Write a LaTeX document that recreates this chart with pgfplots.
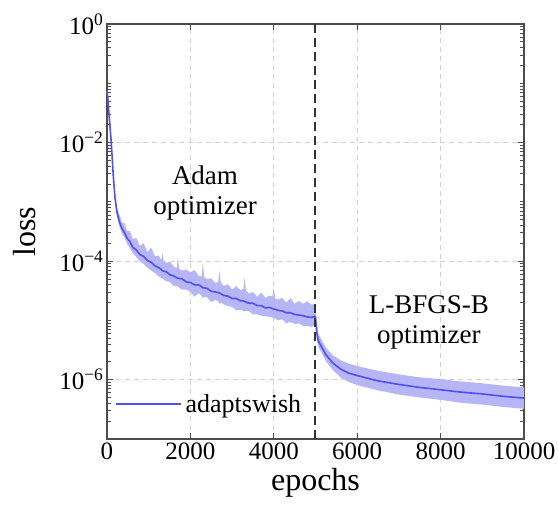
\documentclass[border=0pt]{standalone}
\usepackage{fontspec}
\setmainfont{Liberation Serif}
\usepackage{pgfplots}
\usepackage{pgfplotstable}
\pgfplotsset{compat=1.18}
\usepgfplotslibrary{fillbetween}
\definecolor{lineblue}{RGB}{80,80,240}
\definecolor{bandblue}{RGB}{182,182,246}

\pgfplotstableread{
x m lo hi
0 7.079e-2 6.607e-2 7.586e-2
20 5.623e-2 5.248e-2 6.026e-2
40 3.548e-2 3.236e-2 3.890e-2
60 2.399e-2 2.188e-2 2.630e-2
80 1.585e-2 1.413e-2 1.778e-2
100 1.047e-2 9.333e-3 1.175e-2
120 6.310e-3 5.623e-3 7.244e-3
150 2.818e-3 2.455e-3 3.236e-3
190 1.202e-3 1.047e-3 1.413e-3
240 6.607e-4 5.623e-4 7.943e-4
300 4.571e-4 3.802e-4 6.026e-4
360 3.548e-4 2.884e-4 4.467e-4
420 3.020e-4 2.512e-4 4.365e-4
480 2.455e-4 1.950e-4 3.236e-4
550 2.138e-4 1.660e-4 3.236e-4
620 1.698e-4 1.349e-4 2.344e-4
700 1.549e-4 1.175e-4 2.455e-4
790 1.288e-4 1.000e-4 1.820e-4
880 1.202e-4 8.913e-5 1.995e-4
970 1.023e-4 7.762e-5 1.413e-4
1060 9.550e-5 6.918e-5 1.698e-4
1150 8.318e-5 6.310e-5 1.202e-4
1240 7.762e-5 5.495e-5 1.230e-4
1300 7.244e-5 5.248e-5 1.047e-4
1330 6.918e-5 5.129e-5 1.380e-4
1360 6.761e-5 4.898e-5 1.000e-4
1420 6.607e-5 4.571e-5 9.333e-5
1510 5.888e-5 4.467e-5 9.772e-5
1600 5.623e-5 3.802e-5 8.128e-5
1670 5.248e-5 3.890e-5 7.586e-5
1700 5.129e-5 3.715e-5 1.175e-4
1730 5.129e-5 3.548e-5 7.413e-5
1800 5.012e-5 3.311e-5 6.918e-5
1900 4.467e-5 3.311e-5 7.244e-5
2000 4.365e-5 3.020e-5 6.457e-5
2100 3.981e-5 2.512e-5 7.079e-5
2200 3.981e-5 2.884e-5 5.623e-5
2270 3.715e-5 2.630e-5 5.495e-5
2300 3.548e-5 2.399e-5 9.333e-5
2330 3.548e-5 2.512e-5 5.370e-5
2400 3.467e-5 2.455e-5 5.012e-5
2500 3.090e-5 2.042e-5 5.129e-5
2600 3.020e-5 2.239e-5 4.266e-5
2670 2.951e-5 2.089e-5 4.467e-5
2700 2.884e-5 1.905e-5 6.918e-5
2730 2.818e-5 1.995e-5 4.365e-5
2800 2.630e-5 1.862e-5 3.802e-5
2900 2.570e-5 1.738e-5 4.074e-5
3000 2.344e-5 1.698e-5 3.311e-5
3100 2.344e-5 1.479e-5 3.802e-5
3200 2.138e-5 1.514e-5 3.236e-5
3270 2.138e-5 1.445e-5 3.388e-5
3300 2.089e-5 1.413e-5 5.248e-5
3330 2.042e-5 1.445e-5 3.236e-5
3400 1.950e-5 1.445e-5 2.818e-5
3500 1.950e-5 1.259e-5 3.020e-5
3600 1.778e-5 1.259e-5 2.512e-5
3700 1.778e-5 1.202e-5 2.951e-5
3800 1.622e-5 1.175e-5 2.399e-5
3900 1.660e-5 1.148e-5 2.630e-5
3970 1.585e-5 1.122e-5 2.512e-5
4000 1.549e-5 1.096e-5 3.715e-5
4030 1.549e-5 1.072e-5 2.344e-5
4100 1.479e-5 1.000e-5 2.239e-5
4200 1.445e-5 1.047e-5 2.399e-5
4300 1.349e-5 8.913e-6 1.995e-5
4400 1.349e-5 9.550e-6 2.399e-5
4500 1.259e-5 8.710e-6 1.905e-5
4600 1.230e-5 8.913e-6 2.138e-5
4700 1.202e-5 8.128e-6 1.905e-5
4800 1.148e-5 8.128e-6 2.089e-5
4900 1.122e-5 7.762e-6 1.862e-5
4980 1.175e-5 8.318e-6 1.862e-5
5000 1.122e-5 7.943e-6 1.585e-5
5030 6.310e-6 4.786e-6 8.913e-6
5070 4.467e-6 3.548e-6 5.888e-6
5150 3.548e-6 2.818e-6 4.677e-6
5250 2.630e-6 2.042e-6 3.467e-6
5420 1.905e-6 1.445e-6 2.570e-6
5600 1.514e-6 1.096e-6 2.138e-6
5800 1.288e-6 9.120e-7 1.862e-6
6000 1.175e-6 8.128e-7 1.698e-6
6500 9.550e-7 6.607e-7 1.413e-6
7000 8.318e-7 5.623e-7 1.230e-6
7500 7.413e-7 5.012e-7 1.096e-6
8000 6.761e-7 4.571e-7 1.023e-6
8500 6.166e-7 4.074e-7 9.333e-7
9000 5.754e-7 3.802e-7 8.710e-7
9500 5.248e-7 3.467e-7 7.943e-7
10000 4.898e-7 3.236e-7 7.413e-7
}\lossdata

\begin{document}
\begin{tikzpicture}
\begin{axis}[
  name=ax,
  scale only axis,
  width=417pt, height=415pt,
  ymode=log,
  xmin=0, xmax=10000, ymin=1e-7, ymax=1,
  xtick={0,2000,4000,6000,8000,10000},
  scaled x ticks=false,
  ytick={1e-6,1e-4,1e-2,1},
  yticklabels={10\textsuperscript{−6},10\textsuperscript{−4},10\textsuperscript{−2},10\textsuperscript{0}},
  minor ytick={2e-7,3e-7,4e-7,5e-7,6e-7,7e-7,8e-7,9e-7,
    2e-6,3e-6,4e-6,5e-6,6e-6,7e-6,8e-6,9e-6,1e-5,
    2e-5,3e-5,4e-5,5e-5,6e-5,7e-5,8e-5,9e-5,
    2e-4,3e-4,4e-4,5e-4,6e-4,7e-4,8e-4,9e-4,1e-3,
    2e-3,3e-3,4e-3,5e-3,6e-3,7e-3,8e-3,9e-3,
    2e-2,3e-2,4e-2,5e-2,6e-2,7e-2,8e-2,9e-2,1e-1,
    2e-1,3e-1,4e-1,5e-1,6e-1,7e-1,8e-1,9e-1},
  tick align=inside,
  major tick length=6pt, minor tick length=4pt,
  tick style={line width=0.8pt, color=black!70},
  axis line style={line width=1.2pt, color=black!70},
  grid=major,
  major grid style={dash pattern=on 5pt off 4pt, color=gray!35, line width=0.8pt},
  /pgf/number format/assume math mode=true,
  /pgf/number format/1000 sep={},
  tick label style={font=\fontsize{25}{30}\selectfont},
  xlabel={epochs}, ylabel={loss},
  label style={font=\fontsize{32}{38}\selectfont},
  xlabel style={at={(axis description cs:0.5,-0.123)}, anchor=base},
  ylabel style={at={(axis description cs:-0.197,0.5)}, anchor=center, rotate=0},
  legend style={at={(axis description cs:0.02,0.084)}, anchor=west, draw=none, fill=none,
    font=\fontsize{26}{30}\selectfont, inner sep=0pt, row sep=0pt,
    nodes={inner xsep=3.5pt}},
  legend cell align=left,
  legend image code/.code={\draw[#1] (0pt,0pt) -- (65pt,0pt);},
]
\addplot[name path=upper, draw=none, forget plot] table[x=x, y=hi] {\lossdata};
\addplot[name path=lower, draw=none, forget plot] table[x=x, y=lo] {\lossdata};
\addplot[fill=bandblue, draw=none, forget plot] fill between[of=upper and lower];
\addplot[lineblue, line width=1.6pt] table[x=x, y=m] {\lossdata};
\addlegendentry{adaptswish}
\addplot[black!80, line width=2pt, dash pattern=on 9pt off 5pt, forget plot] coordinates {(5000,1e-7) (5000,1)};
\node[align=center, font=\fontsize{27}{30}\selectfont] at (axis cs:2350,1.4e-3) {Adam\\optimizer};
\node[align=center, font=\fontsize{27}{30}\selectfont] at (axis cs:7720,9.4e-6) {L-BFGS-B\\optimizer};
\end{axis}
\pgfresetboundingbox
\path ([xshift=-107pt,yshift=-76pt]ax.south west) rectangle ([xshift=34pt,yshift=24pt]ax.north east);
\end{tikzpicture}
\end{document}
